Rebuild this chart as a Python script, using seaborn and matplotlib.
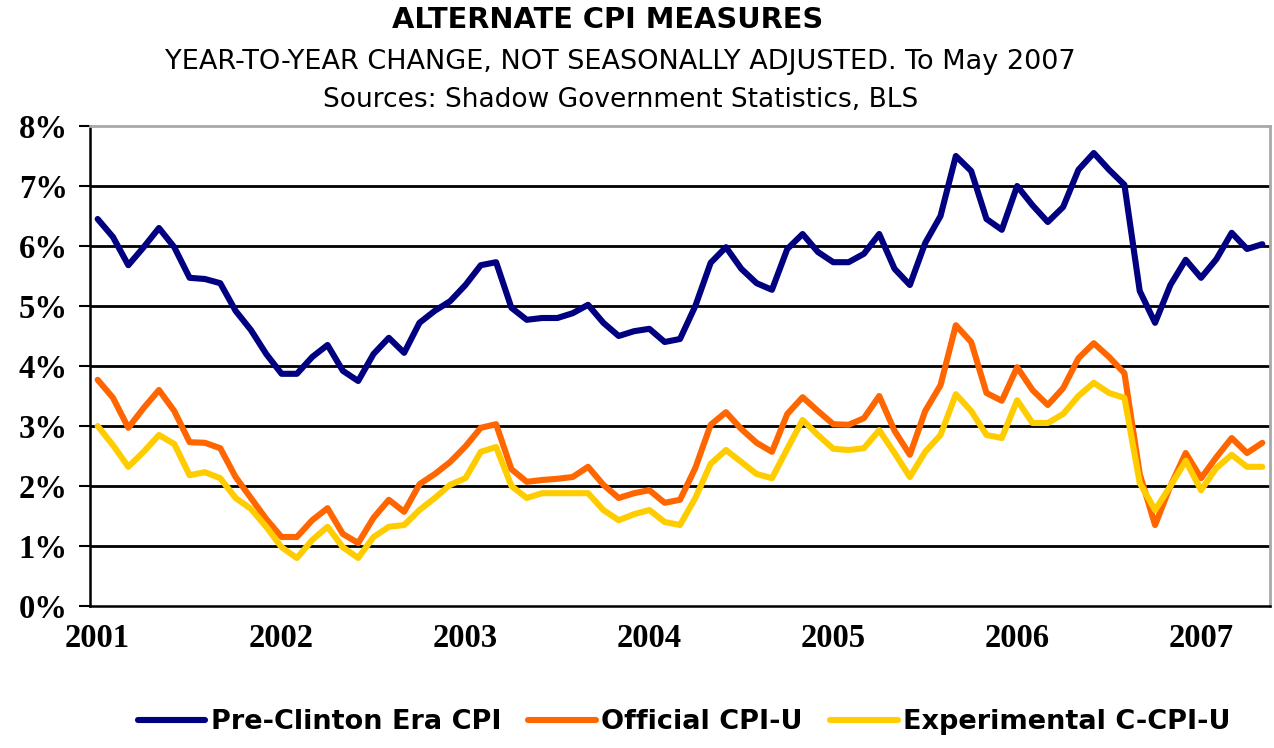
import numpy as np
import pandas as pd
import matplotlib
matplotlib.use('Agg')
import matplotlib.pyplot as plt
import seaborn as sns
from matplotlib.lines import Line2D

sns.set_style('white')
plt.rcParams['text.color'] = 'black'
plt.rcParams['xtick.color'] = 'black'
plt.rcParams['ytick.color'] = 'black'

# monthly data, Jan 2001 .. May 2007
pre_clinton = [6.45, 6.15, 5.68, 5.98, 6.30, 5.98, 5.47, 5.45, 5.38, 4.92, 4.60, 4.20,
               3.87, 3.87, 4.15, 4.35, 3.92, 3.75, 4.20, 4.47, 4.22, 4.72, 4.92, 5.08,
               5.35, 5.68, 5.73, 4.97, 4.77, 4.80, 4.80, 4.88, 5.02, 4.72, 4.50, 4.58,
               4.62, 4.40, 4.45, 5.00, 5.72, 5.98, 5.62, 5.38, 5.27, 5.95, 6.20, 5.90,
               5.73, 5.73, 5.87, 6.20, 5.62, 5.35, 6.05, 6.50, 7.50, 7.25, 6.45, 6.27,
               7.00, 6.68, 6.40, 6.65, 7.27, 7.55, 7.27, 7.02, 5.25, 4.72, 5.35, 5.77,
               5.47, 5.78, 6.22, 5.95, 6.03]
official = [3.77, 3.47, 2.97, 3.30, 3.60, 3.25, 2.73, 2.72, 2.63, 2.15, 1.80, 1.45,
            1.15, 1.15, 1.43, 1.63, 1.20, 1.05, 1.47, 1.77, 1.57, 2.03, 2.20, 2.40,
            2.66, 2.97, 3.03, 2.28, 2.07, 2.10, 2.12, 2.15, 2.32, 2.02, 1.80, 1.88,
            1.93, 1.72, 1.77, 2.30, 3.02, 3.23, 2.95, 2.72, 2.57, 3.20, 3.48, 3.25,
            3.03, 3.02, 3.13, 3.50, 2.92, 2.52, 3.25, 3.68, 4.68, 4.40, 3.55, 3.42,
            3.98, 3.60, 3.35, 3.63, 4.13, 4.38, 4.15, 3.88, 2.20, 1.35, 2.00, 2.55,
            2.13, 2.48, 2.80, 2.55, 2.72]
experimental = [3.00, 2.68, 2.32, 2.57, 2.85, 2.70, 2.18, 2.23, 2.13, 1.80, 1.62, 1.32,
                0.98, 0.80, 1.10, 1.32, 0.98, 0.80, 1.15, 1.32, 1.35, 1.60, 1.80, 2.02,
                2.13, 2.57, 2.65, 2.00, 1.80, 1.88, 1.88, 1.88, 1.88, 1.60, 1.43, 1.53,
                1.60, 1.40, 1.35, 1.80, 2.37, 2.60, 2.40, 2.20, 2.13, 2.62, 3.10, 2.85,
                2.62, 2.60, 2.63, 2.93, 2.55, 2.15, 2.57, 2.85, 3.53, 3.25, 2.85, 2.80,
                3.43, 3.05, 3.05, 3.20, 3.50, 3.72, 3.55, 3.47, 2.05, 1.60, 2.00, 2.42,
                1.93, 2.30, 2.52, 2.32, 2.32]
years = ['2001', '2002', '2003', '2004', '2005', '2006', '2007']
series_names = ['Pre-Clinton Era CPI', 'Official CPI-U', 'Experimental C-CPI-U']
colors = ['#000080', '#FF6600', '#FFCC00']

months = np.arange(len(pre_clinton))
df = pd.DataFrame({
    'month': np.tile(months, 3),
    'value': pre_clinton + official + experimental,
    'series': np.repeat(series_names, len(months)),
})

fig = plt.figure(figsize=(12.74, 7.48), dpi=100)
ax = fig.add_axes([90/1274, 142/748, 1180/1274, 480/748])

sns.lineplot(data=df, x='month', y='value', hue='series', hue_order=series_names,
             palette=colors, linewidth=4.4, legend=False, ax=ax)

ax.set_xlim(-0.5, 76.5)
ax.set_ylim(0, 8)

# horizontal gridlines
for v in range(1, 8):
    ax.axhline(v, color='black', linewidth=2, zorder=0)

ax.set_yticks(range(0, 9))
ax.set_yticklabels([f'{v}%' for v in range(0, 9)])
ax.set_xticks(np.arange(0, 77, 12))
ax.set_xticklabels(years)
ax.set_xticks(np.arange(-0.5, 77, 12), minor=True)
ax.tick_params(axis='x', which='major', length=0, pad=12)
ax.tick_params(axis='x', which='minor', length=9, width=1.5, direction='out', color='black')
ax.tick_params(axis='y', length=8, width=1.5, direction='out', color='black', pad=8, left=True)
for lab in ax.get_xticklabels() + ax.get_yticklabels():
    lab.set_fontfamily('Liberation Serif')
    lab.set_fontweight('bold')
    lab.set_fontsize(23.5)
ax.set_xlabel('')
ax.set_ylabel('')

for s in ['left', 'bottom']:
    ax.spines[s].set_color('black')
    ax.spines[s].set_linewidth(1.8)
for s in ['top', 'right']:
    ax.spines[s].set_color('#a8a8a8')
    ax.spines[s].set_linewidth(2)

fig.text(0.477, 1 - 20/748, 'ALTERNATE CPI MEASURES', ha='center', va='center',
         fontsize=20.8, fontweight='bold')
fig.text(0.487, 1 - 62/748, 'YEAR-TO-YEAR CHANGE, NOT SEASONALLY ADJUSTED. To May 2007',
         ha='center', va='center', fontsize=19.5)
fig.text(0.487, 1 - 100/748, 'Sources: Shadow Government Statistics, BLS',
         ha='center', va='center', fontsize=19)

handles = [Line2D([0], [0], color=c, linewidth=4.4) for c in colors]
fig.legend(handles, series_names, loc='center', bbox_to_anchor=(0.537, 1 - 722/748),
           ncol=3, frameon=False, handlelength=2.5, handletextpad=0.2, columnspacing=1.0,
           prop={'weight': 'bold', 'size': 19.5})

fig.savefig('out.png', dpi=100)
